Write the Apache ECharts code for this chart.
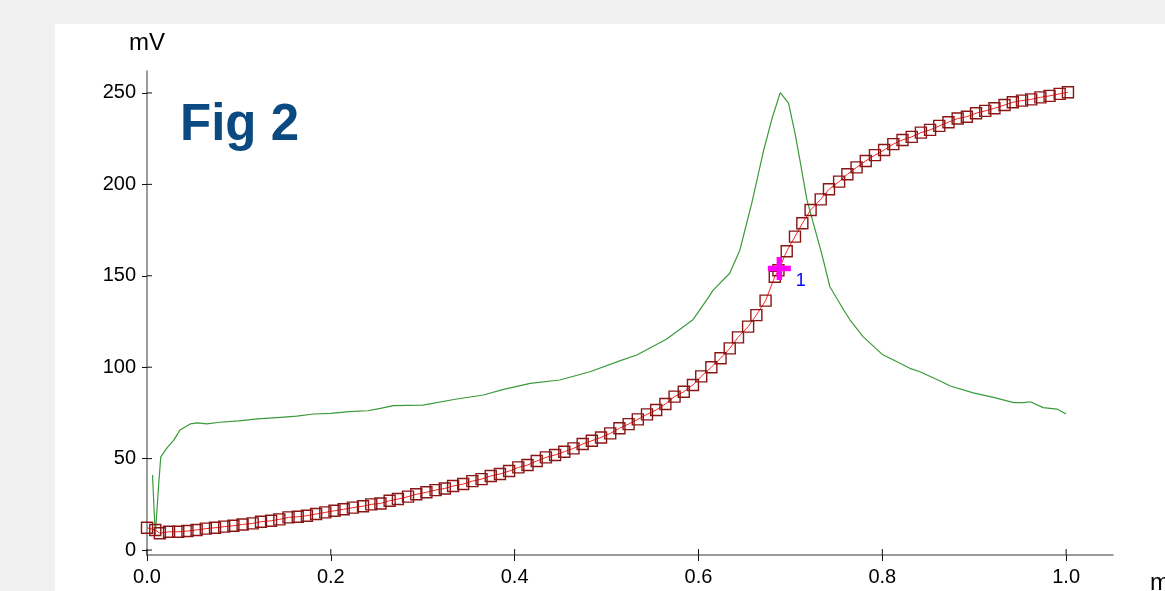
<!DOCTYPE html>
<html>
<head>
<meta charset="utf-8">
<script src="https://cdn.jsdelivr.net/npm/echarts@6/dist/echarts.min.js"></script>
<style>
html,body{margin:0;padding:0;background:#f0f0f0;}
#wrap{position:relative;width:1165px;height:591px;overflow:hidden;background:#f0f0f0;}
#panel{position:absolute;left:55px;top:24px;right:0;bottom:0;background:#ffffff;}
#chart{position:absolute;left:0;top:0;width:1165px;height:591px;}
</style>
</head>
<body>
<div id="wrap"><div id="panel"></div><div id="chart"></div></div>
<script>
// ---- data ----
const xTicks = [0, 0.2, 0.4, 0.6, 0.8, 1.0];
const yTicks = [0, 50, 100, 150, 200, 250];

const redX = [0.000,0.009,0.014,0.024,0.034,0.044,0.054,0.064,0.074,0.084,
  0.094,0.104,0.115,0.124,0.135,0.144,0.154,0.164,0.174,0.184,
  0.194,0.204,0.214,0.224,0.235,0.244,0.254,0.264,0.273,0.284,
  0.293,0.304,0.314,0.324,0.333,0.344,0.354,0.364,0.374,0.384,
  0.394,0.404,0.414,0.424,0.434,0.444,0.454,0.464,0.474,0.484,
  0.494,0.504,0.514,0.524,0.534,0.544,0.554,0.564,0.574,0.584,
  0.594,0.603,0.614,0.624,0.634,0.643,0.654,0.663,0.673,0.683,
  0.687,0.696,0.705,0.713,0.722,0.733,0.742,0.753,0.762,0.772,
  0.782,0.792,0.802,0.812,0.822,0.832,0.842,0.852,0.862,0.872,
  0.882,0.892,0.902,0.912,0.922,0.933,0.942,0.952,0.962,0.972,
  0.982,0.993,1.002];
const redY = [12.2,11,9.2,10,10,10.4,11,11.7,12.2,12.8,
  13.3,14,14.6,15.5,16,16.8,17.9,18.2,18.8,19.7,
  20.6,21.5,22.3,23.2,24,25,25.5,27,27.9,29.2,
  30.5,31.6,32.8,33.7,35,36.1,37.7,38.8,40.5,41.6,
  43.2,45.2,46.5,48.7,50.7,52,53.8,55.6,58,59.8,
  61.6,63.8,66.6,68.9,71.5,74.2,76.6,79.9,83.9,86.6,
  90.3,95,100,104.9,110.3,116.3,122.2,128.5,136.4,149.5,
  153,163.4,171.4,178.7,186,191.8,197.3,201.5,205.5,209.3,
  212.8,216,218.8,222,224.3,226,228.3,229.8,232,234,
  236,237,238.9,240.2,241.6,243.4,244.9,245.8,246.5,247.6,
  248.4,249.5,250.4];

const greenX = [0.006,0.009,0.013,0.015,0.022,0.029,0.036,0.047,0.055,0.065,
  0.079,0.10,0.12,0.145,0.163,0.181,0.20,0.22,0.24,0.254,
  0.268,0.30,0.337,0.366,0.388,0.417,0.449,0.482,0.515,0.533,
  0.565,0.594,0.609,0.616,0.634,0.645,0.658,0.671,0.68,0.689,
  0.698,0.705,0.711,0.718,0.725,0.734,0.743,0.758,0.765,0.779,
  0.80,0.816,0.83,0.841,0.863,0.874,0.899,0.921,0.943,0.954,
  0.961,0.975,0.99,1.0];
const greenY = [41,8,38,51,56,60,65.7,69,69.6,69,
  69.9,70.7,71.7,72.6,73.3,74.4,74.8,75.7,76.2,77.5,
  79,79.3,82.6,84.8,87.9,91.2,93,97.5,103.6,106.7,
  115.3,126,136.8,142.2,151.4,164,189.7,218.8,236,250.2,
  244.4,228,211.5,191.5,178.7,162.3,144,131.3,125.8,116.7,
  107,103,99.4,97.5,92.5,89.7,86,83.5,80.6,80.6,
  81.1,77.9,77.1,74.4];

const cursorPoint = [0.688, 154];
const cursorLabel = '1';
const yName = 'mV';
const xName = 'ms';
const figTitle = 'Fig 2';

// ---- chart ----
const FONT = '"Liberation Sans", Arial, sans-serif';
const X_MIN = 0, X_MAX = 1.051, Y_MIN = -2.7, Y_MAX = 262;

const chart = echarts.init(document.getElementById('chart'), null, {renderer: 'canvas'});

const tickStyle = {stroke: '#111', lineWidth: 1};

const option = {
  backgroundColor: 'transparent',
  animation: false,
  grid: {left: 147, right: 52, top: 71, bottom: 36, containLabel: false},
  xAxis: {
    type: 'value', min: X_MIN, max: X_MAX,
    splitLine: {show: false},
    axisLine: {show: true, onZero: false, lineStyle: {color: '#7a7a7a', width: 1.5}},
    axisTick: {show: true, length: 6, customValues: xTicks, lineStyle: {color: '#111', width: 1}},
    axisLabel: {customValues: xTicks, margin: 12, formatter: v => v.toFixed(1),
      color: '#000', fontSize: 20, fontFamily: FONT}
  },
  yAxis: {
    type: 'value', min: Y_MIN, max: Y_MAX,
    splitLine: {show: false},
    axisLine: {show: true, onZero: false, lineStyle: {color: '#7a7a7a', width: 1.5}},
    axisTick: {show: true, length: 5, customValues: yTicks, lineStyle: {color: '#111', width: 1}},
    axisLabel: {customValues: yTicks, margin: 11, color: '#000', fontSize: 20, fontFamily: FONT}
  },
  graphic: [
    {type: 'text', left: 129, top: 31, style: {text: yName, fontSize: 24, fontFamily: FONT, fill: '#000'}},
    {type: 'text', x: 1150, y: 583, style: {text: xName, fontSize: 24, fontFamily: FONT, fill: '#000', verticalAlign: 'middle'}},
    {type: 'text', x: 180, y: 126, style: {text: figTitle, fontSize: 51, fontWeight: 'bold', fontFamily: FONT, fill: '#0b4a80', verticalAlign: 'middle'}}
  ],
  series: [
    {
      type: 'line',
      data: greenX.map((x, i) => [x, greenY[i]]),
      showSymbol: false, symbol: 'none',
      lineStyle: {color: '#3a9a3a', width: 1.2},
      z: 2
    },
    {
      type: 'line',
      data: redX.map((x, i) => [x, redY[i]]),
      symbol: 'rect', symbolSize: 11, showAllSymbol: true,
      lineStyle: {color: '#ff2020', width: 1},
      itemStyle: {color: 'rgba(255,255,255,0)', borderColor: '#8a1515', borderWidth: 1.4},
      z: 3
    },
    {
      type: 'scatter',
      data: [cursorPoint],
      symbol: 'path://M8,0H13V8H21V13H13V21H8V13H0V8H8Z', symbolSize: 23,
      itemStyle: {color: '#ff00ff', opacity: 1},
      label: {show: true, formatter: cursorLabel, position: 'right', distance: 5, offset: [0, 13],
        color: '#0000ff', fontSize: 18, fontFamily: FONT},
      z: 5
    },
    {
      // inner halves of the y-axis ticks (ticks cross the axis line)
      type: 'custom', silent: true, z: 4,
      data: yTicks.map(v => [X_MIN, v]),
      renderItem: (params, api) => {
        const p = api.coord([api.value(0), api.value(1)]);
        return {type: 'line', shape: {x1: p[0], y1: p[1], x2: p[0] + 5, y2: p[1]}, style: tickStyle};
      }
    },
    {
      // inner halves of the x-axis ticks
      type: 'custom', silent: true, z: 4,
      data: xTicks.map(v => [v, Y_MIN]),
      renderItem: (params, api) => {
        const p = api.coord([api.value(0), api.value(1)]);
        return {type: 'line', shape: {x1: p[0], y1: p[1], x2: p[0], y2: p[1] - 6}, style: tickStyle};
      }
    }
  ]
};
chart.setOption(option);
</script>
</body>
</html>
